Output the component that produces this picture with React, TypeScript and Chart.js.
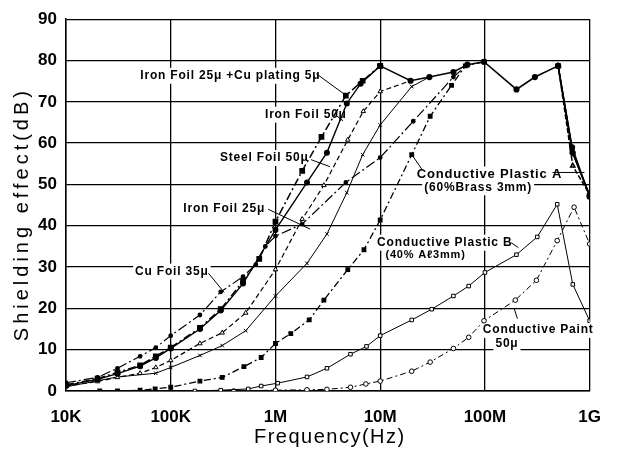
import React, { useEffect, useRef } from 'react';
import { Chart, registerables } from 'chart.js';

Chart.register(...registerables);

// ---------- axis ticks ----------
const decadeTicks = [1e4, 1e5, 1e6, 1e7, 1e8, 1e9];
const decadeLabels = ['10K', '100K', '1M', '10M', '100M', '1G'];

// ---------- series (frequency in Hz, shielding in dB) ----------
const ironCuFreq = [1e4, 2e4, 3.1e4, 5.1e4, 7.2e4, 1e5, 1.9e5, 3e5, 4.9e5, 7e5, 1e6, 1.8e6, 2.75e6, 4.7e6, 6.8e6, 1e7];
const ironCuDb = [1.5, 3.0, 4.5, 6.2, 8.4, 10.5, 15.3, 19.8, 26.6, 32, 41, 53.3, 61.5, 71.5, 75.1, 78.7];

const iron50Freq = [1e4, 2e4, 3.1e4, 5.1e4, 7.2e4, 1e5, 1.9e5, 3e5, 4.9e5, 1e6, 2e6, 3.1e6, 4.8e6, 6.5e6, 1e7];
const iron50Db = [1.3, 2.8, 4.2, 6.0, 8.0, 10.3, 15, 19.5, 26, 39, 50.5, 57.7, 69.6, 74.4, 78.7];

const steel50Freq = [1e4, 2e4, 3.1e4, 5.1e4, 7.2e4, 1e5, 1.9e5, 3.1e5, 5.2e5, 1e6, 1.8e6, 2.9e6, 4.9e6, 6.9e6, 1e7, 1.95e7];
const steel50Db = [1.2, 2.3, 3.3, 4.3, 5.7, 7.4, 11.5, 14.1, 18.9, 29.4, 41.6, 49.8, 60.8, 67.7, 72.5, 75.1];

const iron25Freq = [1e4, 3.1e4, 7.2e4, 1e5, 1.9e5, 3.1e5, 5.2e5, 1e6, 2e6, 3.1e6, 4.8e6, 6.8e6, 1e7, 2e7, 2.95e7];
const iron25Db = [1.0, 3.4, 4.3, 5.7, 8.6, 11, 14.6, 23, 30.9, 38, 48, 57.2, 64.4, 73.7, 76];

const cu35Freq = [1e4, 2e4, 3.1e4, 5.1e4, 7.2e4, 1e5, 1.9e5, 3e5, 4.9e5, 6.5e5, 8e5, 1e6, 1.8e6, 4.7e6, 1e7, 2.07e7, 5e7, 6.8e7];
const cu35Db = [2.0, 3.3, 5.5, 8.4, 10.5, 13.4, 18.4, 24, 27.7, 30.6, 35, 37.5, 40.4, 50.5, 56.5, 65.3, 76, 79];

const plasticAFreq = [2.1e4, 3.1e4, 5.1e4, 7.1e4, 1e5, 1.9e5, 3.1e5, 5e5, 7.3e5, 1e6, 1.4e6, 2.1e6, 2.9e6, 4.9e6, 7e6, 1e7, 2e7, 3e7, 4.8e7, 6.5e7, 9.8e7];
const plasticADb = [0, 0, 0.2, 0.5, 0.9, 2.4, 3.3, 5.9, 8.1, 11.5, 13.9, 17.2, 22, 29.4, 34.2, 41.4, 57.2, 66.5, 74, 78.7, 79.7];

const plasticBFreq = [1.7e5, 3e5, 5.5e5, 7.3e5, 1.05e6, 2e6, 3.1e6, 5.2e6, 7.4e6, 1e7, 2e7, 3.1e7, 5e7, 7e7, 1e8, 2e8, 3.16e8, 4.9e8, 6.9e8, 1e9];
const plasticBDb = [0, 0.2, 0.5, 1.2, 1.9, 3.4, 5.5, 8.9, 10.8, 13.4, 17.2, 19.8, 23, 25.4, 28.7, 33, 37.3, 45.2, 25.8, 17];

const paintFreq = [4e5, 1e6, 2e6, 3.1e6, 5.2e6, 7.3e6, 1e7, 2e7, 3e7, 5e7, 7e7, 9.8e7, 1.95e8, 3.1e8, 4.9e8, 7.1e8, 1e9];
const paintDb = [0, 0.2, 0.3, 0.4, 0.9, 1.7, 2.4, 4.8, 7, 10.3, 13, 17, 22, 26.8, 36.4, 44.5, 35.6];

// common upper envelope reached by the metal foils
const envelopeFreq = [1e7, 1.95e7, 2.95e7, 5e7, 6.8e7, 9.8e7, 2e8, 3e8, 5e8, 6.9e8, 1e9];
const envelopeDb = [78.7, 75.1, 76, 77.2, 79, 79.7, 73, 76, 78.7, 57.6, 47.4];

const iron50DropFreq = [5e8, 6.8e8, 1e9];
const iron50DropDb = [78.7, 59, 47];
const steelDropFreq = [5e8, 6.9e8, 1e9];
const steelDropDb = [78.7, 54.5, 47.5];
const plasticADropFreq = [5e8, 6.8e8, 1e9];
const plasticADropDb = [78.7, 58, 47.2];

// ---------- annotations (data coordinates: log10 freq, dB) ----------
const noteTexts = [
  'Iron Foil 25μ +Cu plating 5μ',
  'Iron Foil 50μ',
  'Steel Foil 50μ',
  'Iron Foil 25μ',
  'Cu Foil 35μ',
  'Conductive Plastic A',
  '(60%Brass 3mm)',
  'Conductive Plastic B',
  '(40% Aℓ3mm)',
  'Conductive Paint',
  '50μ',
];
const noteLogF = [4.71, 5.9, 5.47, 5.12, 4.66, 7.35, 7.42, 6.97, 7.05, 7.98, 8.1];
const noteDb = [76.3, 66.9, 56.4, 44.2, 28.9, 52.4, 49.3, 35.9, 33.0, 14.8, 11.5];
const noteSize = [12, 12, 12, 12, 12, 13, 12, 12, 11, 12, 12];

const leaderFrom = [[6.39, 76.8], [6.58, 66.7], [6.34, 56.0], [5.93, 44.0], [5.36, 28.5], [7.4, 53.6], [8.645, 52.9], [8.25, 35.9], [8.31, 17.5]];
const leaderTo = [[6.66, 71.8], [6.645, 65.4], [6.52, 54.3], [6.33, 39.2], [5.51, 23.9], [7.31, 56.9], [8.95, 52.9], [8.32, 34.7], [8.28, 19.9]];

const toXY = (f: number[], v: number[]) => f.map((x, i) => ({ x, y: v[i] }));

const FONT = '"Liberation Sans", Arial, sans-serif';

const textPlugin = {
  id: 'texts',
  beforeDatasetsDraw(chart: any) {
    const { ctx, scales } = chart;
    const xs = scales.x;
    const ys = scales.y;
    ctx.save();
    ctx.fillStyle = '#000';
    ctx.textBaseline = 'middle';
    ctx.textAlign = 'left';
    noteTexts.forEach((t, i) => {
      ctx.font = `bold ${noteSize[i]}px ${FONT}`;
      (ctx as any).letterSpacing = '0.8px';
      const px = xs.getPixelForValue(Math.pow(10, noteLogF[i]));
      const py = ys.getPixelForValue(noteDb[i]);
      const w = ctx.measureText(t).width;
      ctx.fillStyle = '#fff';
      ctx.fillRect(px - 2, py - 8, w + 4, 16);
      ctx.fillStyle = '#000';
      ctx.fillText(t, px, py);
    });
    ctx.strokeStyle = '#000';
    ctx.lineWidth = 1;
    leaderFrom.forEach((a, i) => {
      const b = leaderTo[i];
      ctx.beginPath();
      ctx.moveTo(xs.getPixelForValue(Math.pow(10, a[0])), ys.getPixelForValue(a[1]));
      ctx.lineTo(xs.getPixelForValue(Math.pow(10, b[0])), ys.getPixelForValue(b[1]));
      ctx.stroke();
    });
    ctx.restore();
  },
  afterDraw(chart: any) {
    const { ctx, chartArea } = chart;
    ctx.save();
    ctx.fillStyle = '#000';
    ctx.textAlign = 'center';
    ctx.textBaseline = 'middle';
    ctx.font = `20px ${FONT}`;
    (ctx as any).letterSpacing = '1.5px';
    ctx.fillText('Frequency(Hz)', (chartArea.left + chartArea.right) / 2 + 2, chartArea.bottom + 46);
    ctx.translate(22, (chartArea.top + chartArea.bottom) / 2 + 9);
    ctx.rotate(-Math.PI / 2);
    (ctx as any).letterSpacing = '4px';
    ctx.fillText('Shielding effect(dB)', 0, 0);
    ctx.restore();
  },
};

export default function App() {
  const ref = useRef<HTMLCanvasElement | null>(null);
  useEffect(() => {
    document.body.style.margin = '0';
    const canvas = ref.current;
    if (!canvas) return;
    const base = {
      borderColor: '#000',
      pointBorderColor: '#000',
      showLine: true,
      fill: false,
      tension: 0,
    };
    const chart = new Chart(canvas, {
      type: 'scatter',
      data: {
        datasets: [
          { ...base, label: 'envelope', data: toXY(envelopeFreq, envelopeDb), borderWidth: 1.6, pointRadius: 2.3, pointBackgroundColor: '#000', pointStyle: 'circle' },
          { ...base, label: 'Iron Foil 25μ + Cu plating 5μ', data: toXY(ironCuFreq, ironCuDb), borderWidth: 1.5, borderDash: [8, 3, 2, 3], pointRadius: 3, pointStyle: 'rect', pointBackgroundColor: '#000' },
          { ...base, label: 'Iron Foil 50μ', data: toXY(iron50Freq, iron50Db), borderWidth: 1.4, pointRadius: 2.3, pointStyle: 'circle', pointBackgroundColor: '#000' },
          { ...base, label: 'Steel Foil 50μ', data: toXY(steel50Freq, steel50Db), borderWidth: 1.2, borderDash: [5, 3], pointRadius: 2.6, pointStyle: 'triangle', pointBackgroundColor: '#fff', pointBorderWidth: 1 },
          { ...base, label: 'Iron Foil 25μ', data: toXY(iron25Freq, iron25Db), borderWidth: 1, pointRadius: 2.5, pointStyle: 'crossRot', pointBorderWidth: 1 },
          { ...base, label: 'Cu Foil 35μ', data: toXY(cu35Freq, cu35Db), borderWidth: 1.2, borderDash: [10, 3, 2, 3], pointRadius: 1.8, pointStyle: 'circle', pointBackgroundColor: '#000' },
          { ...base, label: 'Conductive Plastic A', data: toXY(plasticAFreq, plasticADb), borderWidth: 1.3, borderDash: [7, 3, 2, 3], pointRadius: 2.5, pointStyle: 'rect', pointBackgroundColor: '#000' },
          { ...base, label: 'Conductive Plastic B', data: toXY(plasticBFreq, plasticBDb), borderWidth: 1, pointRadius: 2.5, pointStyle: 'rect', pointBackgroundColor: '#fff', pointBorderWidth: 1 },
          { ...base, label: 'Conductive Paint', data: toXY(paintFreq, paintDb), borderWidth: 1, borderDash: [6, 3, 2, 3], pointRadius: 2.3, pointStyle: 'circle', pointBackgroundColor: '#fff', pointBorderWidth: 1 },
          { ...base, label: 'iron50 drop', data: toXY(iron50DropFreq, iron50DropDb), borderWidth: 1.5, pointRadius: 2.3, pointStyle: 'circle', pointBackgroundColor: '#000' },
          { ...base, label: 'steel drop', data: toXY(steelDropFreq, steelDropDb), borderWidth: 1.5, borderDash: [5, 2], pointRadius: 2.5, pointStyle: 'triangle', pointBackgroundColor: '#fff' },
          { ...base, label: 'plasticA drop', data: toXY(plasticADropFreq, plasticADropDb), borderWidth: 1.5, pointRadius: 2.5, pointStyle: 'rect', pointBackgroundColor: '#000' },
        ],
      },
      options: {
        responsive: false,
        animation: false,
        events: [],
        layout: { padding: { top: 14, right: 16, left: 0, bottom: 0 } },
        plugins: { legend: { display: false }, tooltip: { enabled: false } },
        scales: {
          x: {
            type: 'logarithmic',
            min: 1e4,
            max: 1e9,
            afterBuildTicks: (scale: any) => {
              scale.ticks = decadeTicks.map((v) => ({ value: v }));
            },
            afterFit: (scale: any) => {
              scale.height = 75;
            },
            ticks: {
              autoSkip: false,
              maxRotation: 0,
              padding: 16,
              color: '#000',
              font: { family: FONT, size: 17, weight: 'bold' },
              callback: (v: any) => {
                const i = decadeTicks.indexOf(Number(v));
                return i >= 0 ? decadeLabels[i] : '';
              },
            },
            grid: { color: '#000', lineWidth: 1.3, drawTicks: false },
            border: { color: '#000', width: 1.5 },
          },
          y: {
            min: 0,
            max: 90,
            afterFit: (scale: any) => {
              scale.width = 66;
            },
            ticks: {
              stepSize: 10,
              padding: 9,
              color: '#000',
              font: { family: FONT, size: 17, weight: 'bold' },
            },
            grid: { color: '#000', lineWidth: 1.3, drawTicks: false },
            border: { color: '#000', width: 1.5 },
          },
        },
      },
      plugins: [textPlugin],
    } as any);
    return () => chart.destroy();
  }, []);
  return (
    <div style={{ width: 617, height: 466, background: '#fff' }}>
      <canvas ref={ref} width={617} height={466} style={{ display: 'block', width: 617, height: 466 }} />
    </div>
  );
}
